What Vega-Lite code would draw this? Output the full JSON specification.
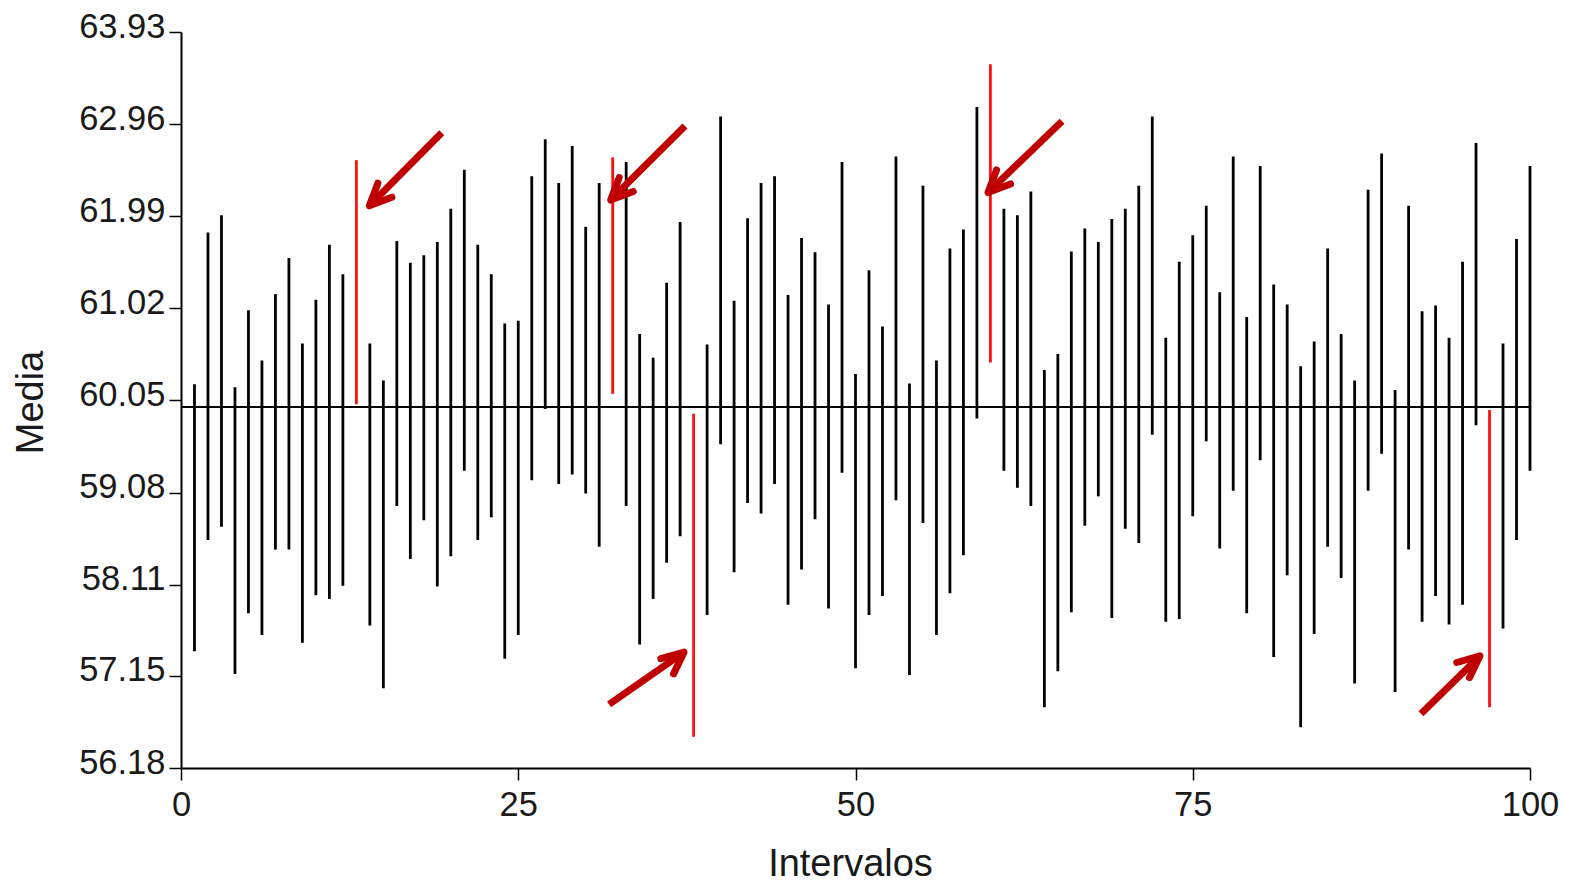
{
  "$schema": "https://vega.github.io/schema/vega-lite/v6.json",
  "width": 1349,
  "height": 736,
  "autosize": {"type": "none"},
  "padding": {"left": 181, "top": 32, "right": 41, "bottom": 118},
  "background": "white",
  "config": {
    "view": {"stroke": null},
    "font": "Liberation Sans",
    "axis": {
      "grid": false,
      "domainColor": "#000000",
      "domainWidth": 2,
      "tickColor": "#000000",
      "tickWidth": 1.5,
      "tickSize": 12,
      "labelFont": "Liberation Sans",
      "labelFontSize": 34.5,
      "labelColor": "#1a1a1a",
      "titleFont": "Liberation Sans",
      "titleFontSize": 38,
      "titleFontWeight": "normal",
      "titleColor": "#1a1a1a"
    }
  },
  "datasets": {
    "intervalos": [
      {"intervalo": 1, "inferior": 57.41, "superior": 60.22, "contiene": "sí"},
      {"intervalo": 2, "inferior": 58.58, "superior": 61.82, "contiene": "sí"},
      {"intervalo": 3, "inferior": 58.72, "superior": 62.00, "contiene": "sí"},
      {"intervalo": 4, "inferior": 57.17, "superior": 60.19, "contiene": "sí"},
      {"intervalo": 5, "inferior": 57.81, "superior": 61.00, "contiene": "sí"},
      {"intervalo": 6, "inferior": 57.58, "superior": 60.47, "contiene": "sí"},
      {"intervalo": 7, "inferior": 58.48, "superior": 61.17, "contiene": "sí"},
      {"intervalo": 8, "inferior": 58.48, "superior": 61.55, "contiene": "sí"},
      {"intervalo": 9, "inferior": 57.50, "superior": 60.65, "contiene": "sí"},
      {"intervalo": 10, "inferior": 58.00, "superior": 61.11, "contiene": "sí"},
      {"intervalo": 11, "inferior": 57.96, "superior": 61.69, "contiene": "sí"},
      {"intervalo": 12, "inferior": 58.10, "superior": 61.38, "contiene": "sí"},
      {"intervalo": 13, "inferior": 60.01, "superior": 62.58, "contiene": "no"},
      {"intervalo": 14, "inferior": 57.68, "superior": 60.65, "contiene": "sí"},
      {"intervalo": 15, "inferior": 57.02, "superior": 60.26, "contiene": "sí"},
      {"intervalo": 16, "inferior": 58.94, "superior": 61.73, "contiene": "sí"},
      {"intervalo": 17, "inferior": 58.38, "superior": 61.50, "contiene": "sí"},
      {"intervalo": 18, "inferior": 58.79, "superior": 61.58, "contiene": "sí"},
      {"intervalo": 19, "inferior": 58.09, "superior": 61.72, "contiene": "sí"},
      {"intervalo": 20, "inferior": 58.41, "superior": 62.07, "contiene": "sí"},
      {"intervalo": 21, "inferior": 59.31, "superior": 62.48, "contiene": "sí"},
      {"intervalo": 22, "inferior": 58.58, "superior": 61.69, "contiene": "sí"},
      {"intervalo": 23, "inferior": 58.82, "superior": 61.38, "contiene": "sí"},
      {"intervalo": 24, "inferior": 57.33, "superior": 60.86, "contiene": "sí"},
      {"intervalo": 25, "inferior": 57.58, "superior": 60.89, "contiene": "sí"},
      {"intervalo": 26, "inferior": 59.21, "superior": 62.41, "contiene": "sí"},
      {"intervalo": 27, "inferior": 59.96, "superior": 62.80, "contiene": "sí"},
      {"intervalo": 28, "inferior": 59.17, "superior": 62.34, "contiene": "sí"},
      {"intervalo": 29, "inferior": 59.27, "superior": 62.73, "contiene": "sí"},
      {"intervalo": 30, "inferior": 59.07, "superior": 61.88, "contiene": "sí"},
      {"intervalo": 31, "inferior": 58.51, "superior": 62.34, "contiene": "sí"},
      {"intervalo": 32, "inferior": 60.12, "superior": 62.61, "contiene": "no"},
      {"intervalo": 33, "inferior": 58.94, "superior": 62.56, "contiene": "sí"},
      {"intervalo": 34, "inferior": 57.48, "superior": 60.75, "contiene": "sí"},
      {"intervalo": 35, "inferior": 57.96, "superior": 60.50, "contiene": "sí"},
      {"intervalo": 36, "inferior": 58.34, "superior": 61.29, "contiene": "sí"},
      {"intervalo": 37, "inferior": 58.62, "superior": 61.93, "contiene": "sí"},
      {"intervalo": 38, "inferior": 56.51, "superior": 59.91, "contiene": "no"},
      {"intervalo": 39, "inferior": 57.79, "superior": 60.64, "contiene": "sí"},
      {"intervalo": 40, "inferior": 59.59, "superior": 63.04, "contiene": "sí"},
      {"intervalo": 41, "inferior": 58.24, "superior": 61.10, "contiene": "sí"},
      {"intervalo": 42, "inferior": 58.97, "superior": 61.97, "contiene": "sí"},
      {"intervalo": 43, "inferior": 58.86, "superior": 62.34, "contiene": "sí"},
      {"intervalo": 44, "inferior": 59.17, "superior": 62.41, "contiene": "sí"},
      {"intervalo": 45, "inferior": 57.90, "superior": 61.16, "contiene": "sí"},
      {"intervalo": 46, "inferior": 58.27, "superior": 61.76, "contiene": "sí"},
      {"intervalo": 47, "inferior": 58.80, "superior": 61.61, "contiene": "sí"},
      {"intervalo": 48, "inferior": 57.86, "superior": 61.06, "contiene": "sí"},
      {"intervalo": 49, "inferior": 59.29, "superior": 62.56, "contiene": "sí"},
      {"intervalo": 50, "inferior": 57.23, "superior": 60.33, "contiene": "sí"},
      {"intervalo": 51, "inferior": 57.79, "superior": 61.42, "contiene": "sí"},
      {"intervalo": 52, "inferior": 57.99, "superior": 60.83, "contiene": "sí"},
      {"intervalo": 53, "inferior": 59.00, "superior": 62.62, "contiene": "sí"},
      {"intervalo": 54, "inferior": 57.16, "superior": 60.23, "contiene": "sí"},
      {"intervalo": 55, "inferior": 58.76, "superior": 62.31, "contiene": "sí"},
      {"intervalo": 56, "inferior": 57.58, "superior": 60.47, "contiene": "sí"},
      {"intervalo": 57, "inferior": 58.02, "superior": 61.65, "contiene": "sí"},
      {"intervalo": 58, "inferior": 58.42, "superior": 61.85, "contiene": "sí"},
      {"intervalo": 59, "inferior": 59.86, "superior": 63.14, "contiene": "sí"},
      {"intervalo": 60, "inferior": 60.45, "superior": 63.59, "contiene": "no"},
      {"intervalo": 61, "inferior": 59.31, "superior": 62.07, "contiene": "sí"},
      {"intervalo": 62, "inferior": 59.13, "superior": 62.00, "contiene": "sí"},
      {"intervalo": 63, "inferior": 58.94, "superior": 62.25, "contiene": "sí"},
      {"intervalo": 64, "inferior": 56.82, "superior": 60.37, "contiene": "sí"},
      {"intervalo": 65, "inferior": 57.20, "superior": 60.54, "contiene": "sí"},
      {"intervalo": 66, "inferior": 57.82, "superior": 61.62, "contiene": "sí"},
      {"intervalo": 67, "inferior": 58.73, "superior": 61.86, "contiene": "sí"},
      {"intervalo": 68, "inferior": 59.04, "superior": 61.72, "contiene": "sí"},
      {"intervalo": 69, "inferior": 57.76, "superior": 61.96, "contiene": "sí"},
      {"intervalo": 70, "inferior": 58.70, "superior": 62.07, "contiene": "sí"},
      {"intervalo": 71, "inferior": 58.55, "superior": 62.31, "contiene": "sí"},
      {"intervalo": 72, "inferior": 59.69, "superior": 63.04, "contiene": "sí"},
      {"intervalo": 73, "inferior": 57.72, "superior": 60.71, "contiene": "sí"},
      {"intervalo": 74, "inferior": 57.75, "superior": 61.51, "contiene": "sí"},
      {"intervalo": 75, "inferior": 58.83, "superior": 61.79, "contiene": "sí"},
      {"intervalo": 76, "inferior": 59.62, "superior": 62.10, "contiene": "sí"},
      {"intervalo": 77, "inferior": 58.49, "superior": 61.19, "contiene": "sí"},
      {"intervalo": 78, "inferior": 59.10, "superior": 62.62, "contiene": "sí"},
      {"intervalo": 79, "inferior": 57.81, "superior": 60.93, "contiene": "sí"},
      {"intervalo": 80, "inferior": 59.42, "superior": 62.52, "contiene": "sí"},
      {"intervalo": 81, "inferior": 57.35, "superior": 61.27, "contiene": "sí"},
      {"intervalo": 82, "inferior": 58.21, "superior": 61.06, "contiene": "sí"},
      {"intervalo": 83, "inferior": 56.61, "superior": 60.41, "contiene": "sí"},
      {"intervalo": 84, "inferior": 57.59, "superior": 60.67, "contiene": "sí"},
      {"intervalo": 85, "inferior": 58.51, "superior": 61.65, "contiene": "sí"},
      {"intervalo": 86, "inferior": 58.18, "superior": 60.75, "contiene": "sí"},
      {"intervalo": 87, "inferior": 57.07, "superior": 60.26, "contiene": "sí"},
      {"intervalo": 88, "inferior": 59.10, "superior": 62.27, "contiene": "sí"},
      {"intervalo": 89, "inferior": 59.49, "superior": 62.65, "contiene": "sí"},
      {"intervalo": 90, "inferior": 56.98, "superior": 60.16, "contiene": "sí"},
      {"intervalo": 91, "inferior": 58.48, "superior": 62.10, "contiene": "sí"},
      {"intervalo": 92, "inferior": 57.72, "superior": 60.99, "contiene": "sí"},
      {"intervalo": 93, "inferior": 57.99, "superior": 61.05, "contiene": "sí"},
      {"intervalo": 94, "inferior": 57.69, "superior": 60.71, "contiene": "sí"},
      {"intervalo": 95, "inferior": 57.90, "superior": 61.51, "contiene": "sí"},
      {"intervalo": 96, "inferior": 59.79, "superior": 62.76, "contiene": "sí"},
      {"intervalo": 97, "inferior": 56.82, "superior": 59.95, "contiene": "no"},
      {"intervalo": 98, "inferior": 57.65, "superior": 60.65, "contiene": "sí"},
      {"intervalo": 99, "inferior": 58.58, "superior": 61.75, "contiene": "sí"},
      {"intervalo": 100, "inferior": 59.31, "superior": 62.52, "contiene": "sí"}
    ],
    "media": [{"mu": 59.98}],
    "flechas_abajo": [
      {"x_cola": 19.33, "y_cola": 62.87, "x_punta": 13.96, "y_punta": 62.10},
      {"x_cola": 37.36, "y_cola": 62.94, "x_punta": 31.85, "y_punta": 62.16},
      {"x_cola": 65.31, "y_cola": 62.99, "x_punta": 59.82, "y_punta": 62.24}
    ],
    "flechas_arriba": [
      {"x_cola": 31.73, "y_cola": 56.85, "x_punta": 37.29, "y_punta": 57.40},
      {"x_cola": 91.92, "y_cola": 56.75, "x_punta": 96.29, "y_punta": 57.36}
    ]
  },
  "layer": [
    {
      "data": {"name": "media"},
      "mark": {"type": "rule", "color": "#000000", "strokeWidth": 2},
      "encoding": {
        "y": {"field": "mu", "type": "quantitative", "scale": {"domain": [56.18, 63.93], "nice": false, "zero": false}}
      }
    },
    {
      "data": {"name": "intervalos"},
      "mark": {"type": "rule", "strokeWidth": 2.8, "strokeCap": "butt"},
      "encoding": {
        "x": {
          "field": "intervalo",
          "type": "quantitative",
          "scale": {"domain": [0, 100], "nice": false, "zero": false},
          "axis": {
            "title": "Intervalos",
            "values": [0, 25, 50, 75, 100],
            "labelPadding": 8,
            "labelFlush": false,
            "titleX": 669,
            "titleY": 107,
            "titleBaseline": "alphabetic",
            "titleAlign": "center"
          }
        },
        "y": {
          "field": "inferior",
          "type": "quantitative",
          "scale": {"domain": [56.18, 63.93], "nice": false, "zero": false},
          "axis": {
            "title": "Media",
            "values": [56.18, 57.15, 58.11, 59.08, 60.05, 61.02, 61.99, 62.96, 63.93],
            "format": ".2f",
            "labelPadding": 4,
            "labelBaseline": "alphabetic",
            "labelOffset": 5,
            "labelFlush": false,
            "titleAngle": -90,
            "titleX": -150,
            "titleY": 370,
            "titleAlign": "center",
            "titleBaseline": "middle"
          }
        },
        "y2": {"field": "superior"},
        "color": {
          "field": "contiene",
          "type": "nominal",
          "scale": {"domain": ["sí", "no"], "range": ["#000000", "#FF1010"]},
          "legend": null
        }
      }
    },
    {
      "data": {"name": "flechas_abajo"},
      "mark": {"type": "rule", "color": "#C00000", "strokeWidth": 7, "strokeCap": "butt"},
      "encoding": {
        "x": {"field": "x_cola", "type": "quantitative"},
        "y": {"field": "y_cola", "type": "quantitative"},
        "x2": {"field": "x_punta"},
        "y2": {"field": "y_punta"}
      }
    },
    {
      "data": {"name": "flechas_abajo"},
      "mark": {"type": "point", "shape": "M -1 -0.45 L 0 0 L -1 0.45", "filled": false, "stroke": "#C00000", "strokeWidth": 7, "strokeJoin": "round", "strokeCap": "round", "size": 1936, "angle": 135, "opacity": 1},
      "encoding": {
        "x": {"field": "x_punta", "type": "quantitative"},
        "y": {"field": "y_punta", "type": "quantitative"}
      }
    },
    {
      "data": {"name": "flechas_arriba"},
      "mark": {"type": "rule", "color": "#C00000", "strokeWidth": 7, "strokeCap": "butt"},
      "encoding": {
        "x": {"field": "x_cola", "type": "quantitative"},
        "y": {"field": "y_cola", "type": "quantitative"},
        "x2": {"field": "x_punta"},
        "y2": {"field": "y_punta"}
      }
    },
    {
      "data": {"name": "flechas_arriba"},
      "mark": {"type": "point", "shape": "M -1 -0.45 L 0 0 L -1 0.45", "filled": false, "stroke": "#C00000", "strokeWidth": 7, "strokeJoin": "round", "strokeCap": "round", "size": 1936, "angle": 320, "opacity": 1},
      "encoding": {
        "x": {"field": "x_punta", "type": "quantitative"},
        "y": {"field": "y_punta", "type": "quantitative"}
      }
    }
  ]
}
